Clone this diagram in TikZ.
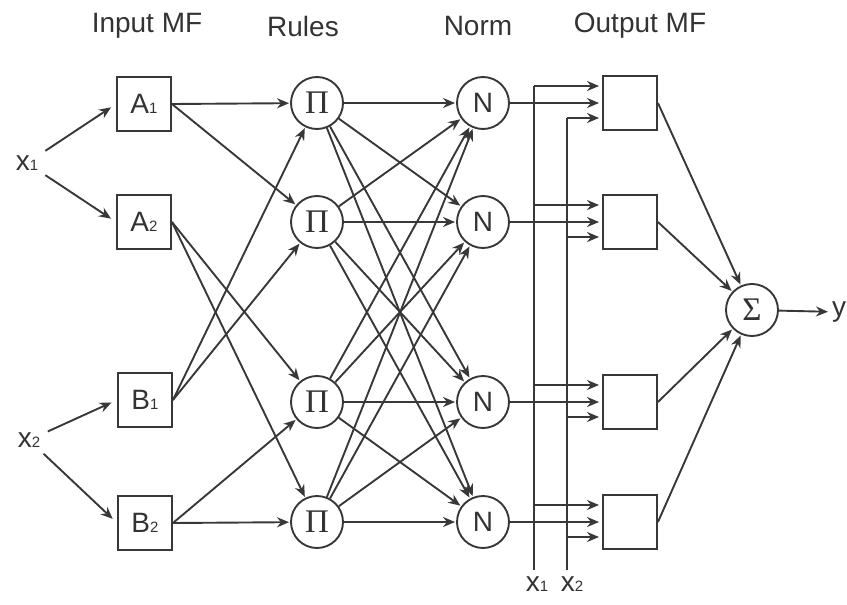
\documentclass[tikz,border=0pt]{standalone}
\usepackage[no-math]{fontspec}
\setmainfont{Liberation Sans}
\newfontfamily\grk{Liberation Serif}
\usetikzlibrary{arrows.meta}
\definecolor{lc}{HTML}{383838}
\definecolor{tc}{HTML}{333333}
\newcommand{\lsub}[1]{{\fontsize{15}{16}\selectfont #1}}
\begin{document}
\begin{tikzpicture}[x=1pt,y=-1pt,
  wire/.style={draw=lc, line width=1.9pt},
  arr/.style={wire, -{Stealth[length=12pt,width=10pt]}, shorten >=1pt},
  mfbox/.style={draw=lc, line width=1.9pt, minimum size=54pt, inner sep=0pt, text=tc, font=\fontsize{28}{30}\selectfont},
  opnode/.style={circle, draw=lc, line width=1.9pt, minimum size=52pt, inner sep=0pt, text=tc, font=\fontsize{28}{30}\selectfont},
  lbl/.style={text=tc, font=\fontsize{28}{30}\selectfont, inner sep=2pt},
  head/.style={text=tc, font=\fontsize{28}{30}\selectfont}
]
\useasboundingbox (0,0) rectangle (847,605);
% headers
\node[head] (h1) at (147,26) {Input MF};
\node[head] (h2) at (303,26) {Rules};
\node[head] (h3) at (478,26) {Norm};
\node[head] (h4) at (640,26) {Output MF};
% inputs
\node[lbl] (x1) at (27,163) {x\lsub{1}};
\node[lbl] (x2) at (29,440) {x\lsub{2}};
% input MF
\node[mfbox] (A1) at (144,104) {A\lsub{1}};
\node[mfbox] (A2) at (144,222) {A\lsub{2}};
\node[mfbox] (B1) at (145,400) {B\lsub{1}};
\node[mfbox] (B2) at (145,523) {B\lsub{2}};
% rules, norm, output MF
\foreach \i/\yy in {1/103,2/222,3/402,4/522}{
  \node[opnode] (P\i) at (317,\yy) {{\grk\fontsize{33}{34}\selectfont Π}};
  \node[opnode] (N\i) at (483,\yy) {N};
  \node[mfbox] (O\i) at (630,\yy) {};
}
\node[opnode] (S) at (752,310) {{\grk\fontsize{33}{34}\selectfont Σ}};
\node[lbl, anchor=west, inner sep=0pt] (y) at (832,312) {y};
% input arrows
\draw[arr, shorten <=6pt, shorten >=6pt] (x1) -- (A1.west);
\draw[arr, shorten <=6pt, shorten >=6pt] (x1) -- (A2.west);
\draw[arr, shorten <=6pt, shorten >=6pt] (x2) -- (B1.west);
\draw[arr, shorten <=6pt, shorten >=6pt] (x2) -- (B2.west);
% MF to rules
\draw[arr] (A1.east) -- (P1);
\draw[arr] (A1.east) -- (P2);
\draw[arr] (A2.east) -- (P3);
\draw[arr] (A2.east) -- (P4);
\draw[arr] (B1.east) -- (P1);
\draw[arr] (B1.east) -- (P2);
\draw[arr] (B2.east) -- (P3);
\draw[arr] (B2.east) -- (P4);
% rules to norm
\foreach \i in {1,...,4}{
  \foreach \j in {1,...,4}{
    \draw[arr] (P\i) -- (N\j);
  }
}
% x1, x2 buses
\coordinate (u1) at (534,86);
\coordinate (u2) at (567,118);
\coordinate (b1) at (534,570);
\coordinate (b2) at (567,570);
\draw[wire] (u1) -- (b1);
\draw[wire] (u2) -- (b2);
\node[lbl, anchor=north] (xb1) at (537,575) {x\lsub{1}};
\node[lbl, anchor=north] (xb2) at (572,575) {x\lsub{2}};
% norm to output MF
\foreach \i in {1,...,4}{
  \coordinate (t\i) at ([yshift=17pt]O\i.west);
  \coordinate (m\i) at ([yshift=-15pt]O\i.west);
  \draw[arr, shorten >=3pt] (u1 |- t\i) -- (t\i);
  \draw[arr, shorten >=3pt] (N\i.east) -- (N\i.east -| O\i.west);
  \draw[arr, shorten >=3pt] (u2 |- m\i) -- (m\i);
  \draw[arr] (O\i.east) -- (S);
}
\draw[arr, shorten >=4pt] (S) -- (y);
\end{tikzpicture}
\end{document}
